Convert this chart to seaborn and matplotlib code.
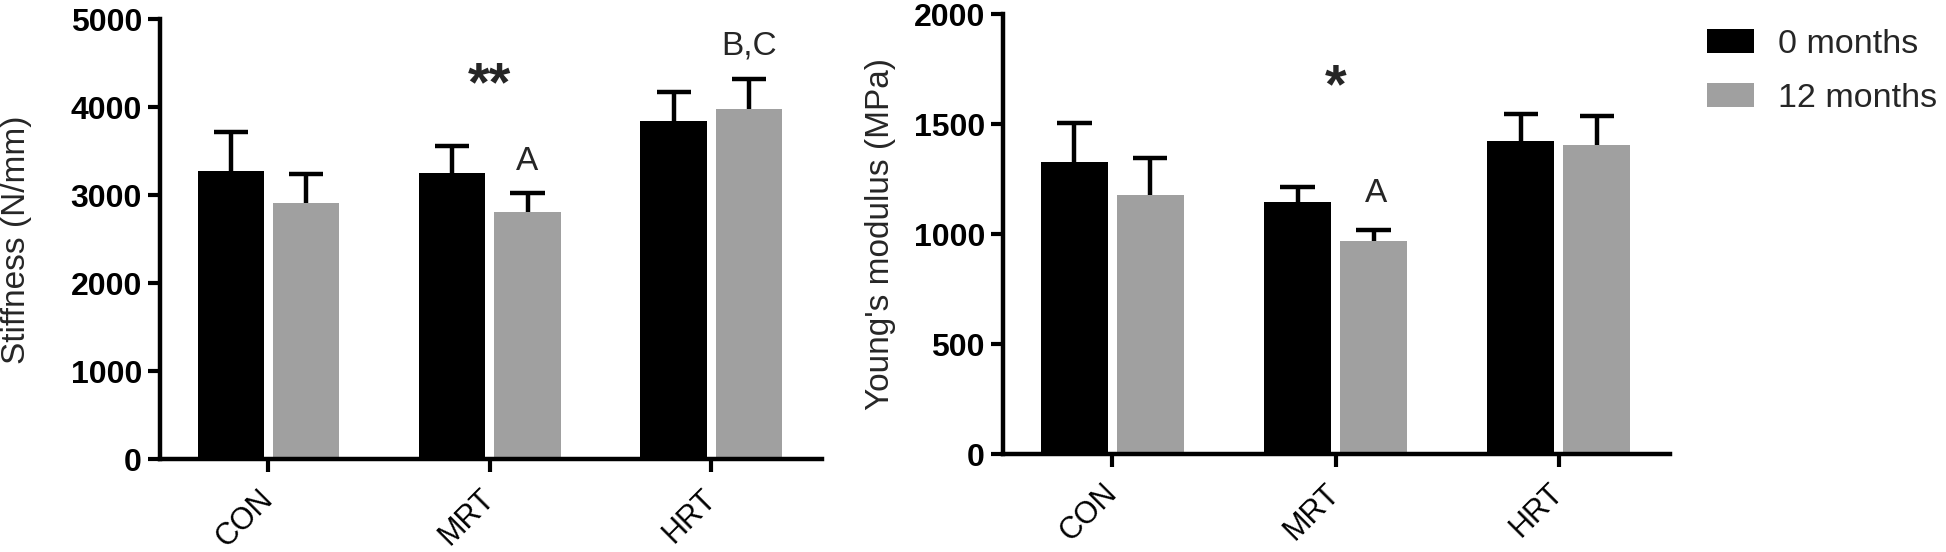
import matplotlib
matplotlib.use("Agg")
import matplotlib.pyplot as plt
import seaborn as sns
import pandas as pd
from matplotlib.patches import Patch

# ---- data ----
categories = ["CON", "MRT", "HRT"]
timepoints = ["0 months", "12 months"]

stiff_0 = [3273, 3257, 3849]
stiff_0_err = [444, 300, 324]
stiff_12 = [2909, 2817, 3981]
stiff_12_err = [332, 216, 341]

young_0 = [1328, 1144, 1424]
young_0_err = [179, 72, 120]
young_12 = [1179, 967, 1405]
young_12_err = [165, 54, 134]

stiff_ticks = [0, 1000, 2000, 3000, 4000, 5000]
young_ticks = [0, 500, 1000, 1500, 2000]

colors = ["#000000", "#a0a0a0"]

sns.set_theme(style="ticks")
plt.rcParams["font.family"] = ["Liberation Sans", "DejaVu Sans"]

fig = plt.figure(figsize=(19.46, 5.52), dpi=100)
ax1 = fig.add_axes([0.0822, 0.1676, 0.3402, 0.7973])
ax2 = fig.add_axes([0.5154, 0.1772, 0.3430, 0.7973])


def draw(ax, v0, e0, v12, e12, yticks, ylabel, lab_x):
    df = pd.DataFrame({
        "group": categories * 2,
        "time": [timepoints[0]] * 3 + [timepoints[1]] * 3,
        "value": list(v0) + list(v12),
    })
    sns.barplot(data=df, x="group", y="value", hue="time", order=categories,
                hue_order=timepoints, palette=colors, width=0.68, gap=0.118,
                errorbar=None, linewidth=0, saturation=1, legend=False, ax=ax)
    errs = [e0, e12]
    for cont, err in zip(ax.containers, errs):
        for bar, e in zip(cont, err):
            xc = bar.get_x() + bar.get_width() / 2
            top = bar.get_height()
            ax.vlines(xc, top, top + e, color="black", lw=3.2, zorder=3)
            ax.hlines(top + e, xc - 0.077, xc + 0.077, color="black", lw=3.2, zorder=3)
    ax.set_xlim(-0.49, 2.5)
    ax.set_ylim(yticks[0], yticks[-1])
    ax.set_yticks(yticks)
    ax.set_yticklabels([str(t) for t in yticks], fontsize=23, fontweight="bold")
    ax.set_xticks(range(len(categories)))
    ax.set_xticklabels(categories, fontsize=22, rotation=45, ha="right",
                       va="center", rotation_mode="anchor")
    ax.tick_params(axis="x", length=9, width=3.0, pad=16, colors="black")
    ax.tick_params(axis="y", length=9, width=3.0, pad=4, colors="black")
    for s in ["top", "right"]:
        ax.spines[s].set_visible(False)
    for s in ["left", "bottom"]:
        ax.spines[s].set_linewidth(3.2)
        ax.spines[s].set_color("black")
    ax.set_xlabel("")
    ax.set_ylabel(ylabel, fontsize=24)
    ax.yaxis.set_label_coords(lab_x, 0.5)


draw(ax1, stiff_0, stiff_0_err, stiff_12, stiff_12_err, stiff_ticks,
     "Stiffness (N/mm)", -0.193)
draw(ax2, young_0, young_0_err, young_12, young_12_err, young_ticks,
     "Young's modulus (MPa)", -0.160)

# significance annotations
ax1.text(1, 4235, "**", fontsize=40, fontweight="bold", ha="center", va="center")
ax1.text(1.17, 3381, "A", fontsize=24, ha="center", va="center")
ax1.text(2.17, 4701, "B,C", fontsize=24, ha="center", va="center")
ax2.text(1, 1665, "*", fontsize=40, fontweight="bold", ha="center", va="center")
ax2.text(1.18, 1184, "A", fontsize=24, ha="center", va="center")

handles = [Patch(facecolor=c, edgecolor="none") for c in colors]
fig.legend(handles, timepoints, loc="upper left",
           bbox_to_anchor=(1707 / 1946, (552 - 29) / 552), frameon=False,
           fontsize=24.5, handlelength=1.38, handleheight=0.7,
           handletextpad=0.7, labelspacing=0.68, borderpad=0, borderaxespad=0)

fig.savefig("out.png", dpi=100)
